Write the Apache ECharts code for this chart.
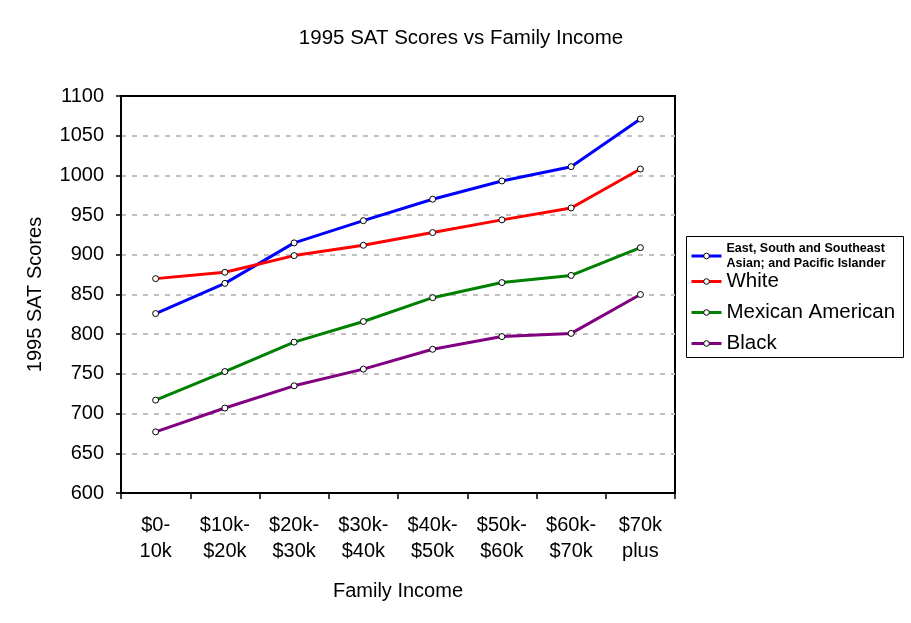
<!DOCTYPE html>
<html>
<head>
<meta charset="utf-8">
<script src="https://cdn.jsdelivr.net/npm/echarts@6/dist/echarts.min.js"></script>
<style>
  html, body { margin: 0; padding: 0; background: #fff; }
  #chart { width: 911px; height: 623px; }
</style>
</head>
<body>
<div id="chart"></div>
<script>
// ── data ──
const incomeLabels = ['$0-\n10k', '$10k-\n$20k', '$20k-\n$30k', '$30k-\n$40k',
                      '$40k-\n$50k', '$50k-\n$60k', '$60k-\n$70k', '$70k\nplus'];
const asianScores   = [826, 864, 915, 943, 970, 993, 1011, 1071];
const whiteScores   = [870, 878, 899, 912, 928, 944, 959, 1008];
const mexicanScores = [717, 753, 790, 816, 846, 865, 874, 909];
const blackScores   = [677, 707, 735, 756, 781, 797, 801, 850];

const asianName = 'East, South and Southeast\nAsian; and Pacific Islander';
const font = 'Liberation Sans, Arial, sans-serif';

function mkLine(name, data, color) {
  return {
    name, type: 'line', data,
    symbol: 'circle', symbolSize: 6, showSymbol: true,
    lineStyle: { color, width: 3 },
    itemStyle: { color: '#fff', borderColor: '#000', borderWidth: 1 },
    emphasis: { disabled: true },
    animation: false,
  };
}

// 图例共用样式（两块 legend 拼成一个框）
const legendBase = {
  orient: 'vertical', left: 690, padding: 0,
  itemWidth: 30, itemHeight: 7,
  itemStyle: { color: '#fff', borderColor: '#000', borderWidth: 1 },
  lineStyle: { width: 3 },
  textStyle: {
    fontFamily: font, color: '#000',
    rich: {
      s: { fontSize: 12.5, fontWeight: 'bold', lineHeight: 15, fontFamily: font, color: '#000' },
      b: { fontSize: 20.5, lineHeight: 20, fontFamily: font, color: '#000' },
    },
  },
};

const chart = echarts.init(document.getElementById('chart'));
chart.setOption({
  textStyle: { fontFamily: font, color: '#000' },
  title: {
    text: '1995 SAT Scores vs Family Income',
    left: 456, top: 23, textAlign: 'center',
    textStyle: { fontFamily: font, fontSize: 20.5, fontWeight: 'normal', color: '#000' },
  },
  grid: {
    left: 121, right: 236, top: 96, bottom: 130,
    show: true, borderColor: '#000', borderWidth: 2, backgroundColor: 'transparent',
  },
  graphic: [{
    type: 'rect', left: 686, top: 236, z: 0,
    shape: { width: 217, height: 121 },
    style: { fill: '#fff', stroke: '#000', lineWidth: 1 },
  }],
  legend: [
    Object.assign({}, legendBase, {
      top: 242, data: [asianName],
      formatter: n => '{s|' + n + '}',
    }),
    Object.assign({}, legendBase, {
      top: 271, itemGap: 10, data: ['White', 'Mexican American', 'Black'],
      formatter: n => '{b|' + n + '}',
    }),
  ],
  xAxis: {
    type: 'category', data: incomeLabels, boundaryGap: true,
    name: 'Family Income', nameLocation: 'middle', nameGap: 88,
    nameTextStyle: { fontFamily: font, fontSize: 20, color: '#000' },
    axisLine: { lineStyle: { color: '#000', width: 2 } },
    axisTick: { show: true, length: 6, lineStyle: { color: '#000', width: 1.5 } },
    axisLabel: { fontFamily: font, fontSize: 20, color: '#000', margin: 19, lineHeight: 26, interval: 0 },
    splitLine: { show: false },
  },
  yAxis: {
    type: 'value', min: 600, max: 1100, interval: 50,
    name: '1995 SAT Scores', nameLocation: 'middle', nameGap: 76, nameRotate: 90,
    nameTextStyle: { fontFamily: font, fontSize: 20, color: '#000' },
    axisLine: { show: true, lineStyle: { color: '#000', width: 2 } },
    axisTick: { show: true, length: 5, lineStyle: { color: '#000', width: 1.5 } },
    axisLabel: { fontFamily: font, fontSize: 20, color: '#000', margin: 17, formatter: v => String(v) },
    splitLine: {
      show: true, showMinLine: false, showMaxLine: false,
      lineStyle: { color: '#c0c0c0', width: 2, type: [5, 6] },
    },
  },
  series: [
    mkLine(asianName, asianScores, '#0000ff'),
    mkLine('White', whiteScores, '#ff0000'),
    mkLine('Mexican American', mexicanScores, '#008000'),
    mkLine('Black', blackScores, '#800080'),
  ],
});
</script>
</body>
</html>
